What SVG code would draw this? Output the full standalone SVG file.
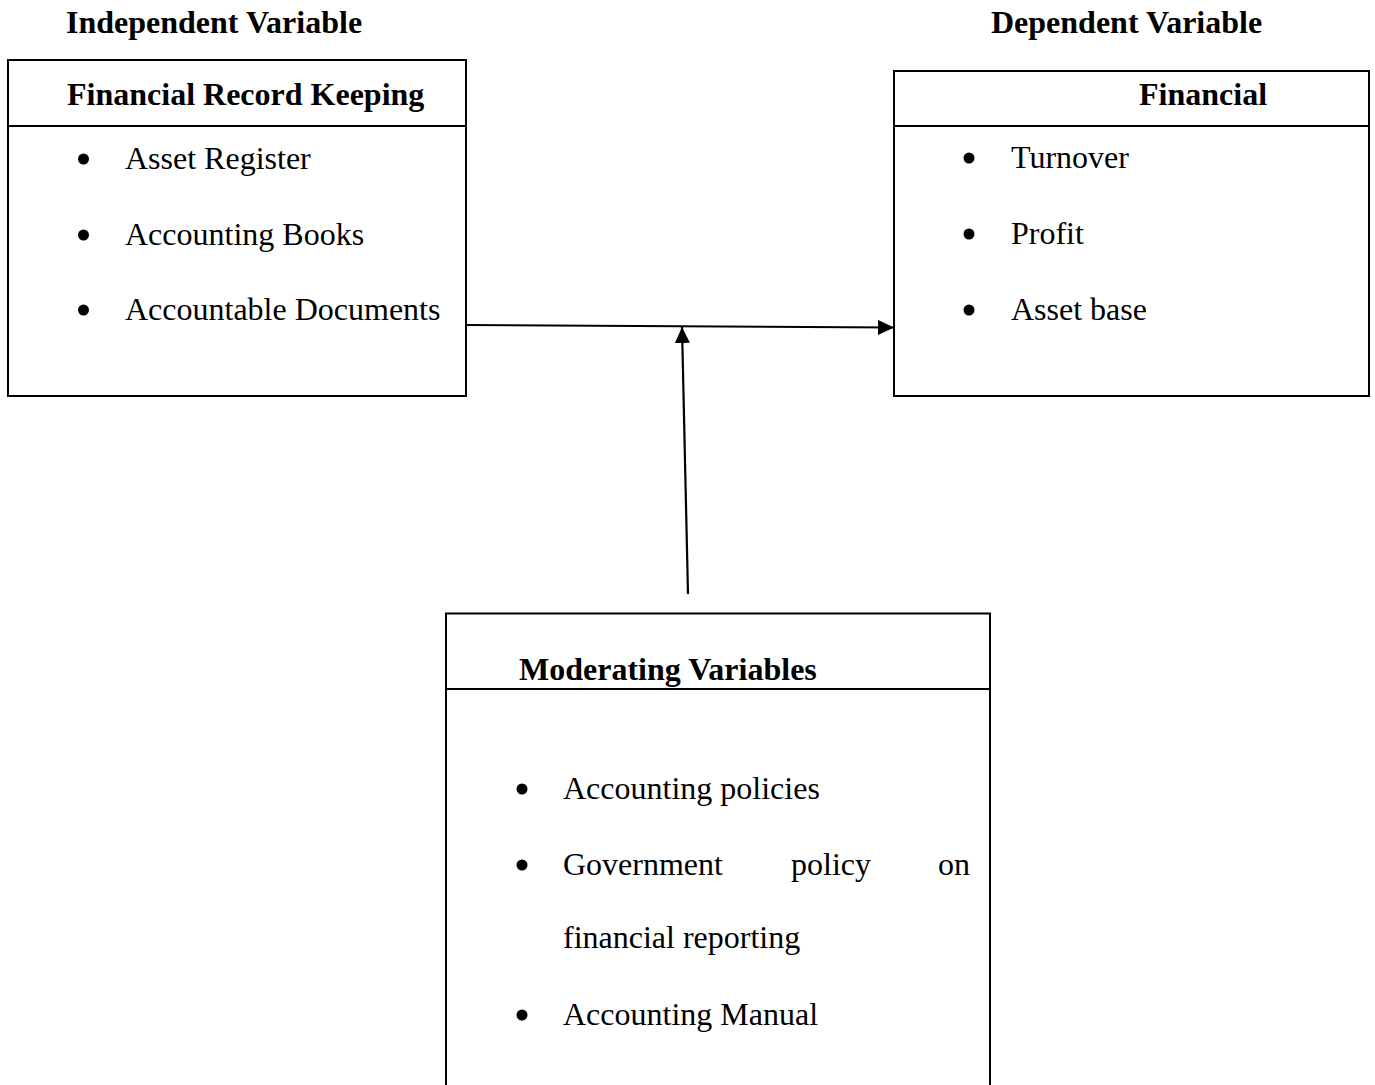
<svg xmlns="http://www.w3.org/2000/svg" width="1375" height="1085" viewBox="0 0 1375 1085">
<style>
.box{fill:none;stroke:#000;stroke-width:2}
.t{font-family:"Liberation Serif","Times New Roman",serif;font-size:32px;fill:#000}
.b{font-weight:bold}
.bul{fill:#000}
.con{stroke:#000;stroke-width:2.2;fill:none}
</style>
<defs>
<marker id="ah" markerUnits="userSpaceOnUse" markerWidth="17" markerHeight="15" refX="16" refY="7.5" orient="auto">
<path d="M0,0 L16,7.5 L0,15 z" fill="#000"/>
</marker>
</defs>
<rect width="1375" height="1085" fill="#fff"/>
<text class="t b" x="66" y="33">Independent Variable</text>
<text class="t b" x="991" y="33">Dependent Variable</text>
<g id="independent">
<rect class="box" x="8" y="60" width="458" height="336"/>
<line class="box" x1="8" y1="126" x2="466" y2="126"/>
<text class="t b" x="67" y="105">Financial Record Keeping</text>
<circle class="bul" cx="83.5" cy="159" r="5.5"/>
<text class="t" x="125" y="169">Asset Register</text>
<circle class="bul" cx="83.5" cy="235" r="5.5"/>
<text class="t" x="125" y="245">Accounting Books</text>
<circle class="bul" cx="83.5" cy="310" r="5.5"/>
<text class="t" x="125" y="320">Accountable Documents</text>
</g>
<g id="dependent">
<rect class="box" x="894" y="71" width="475" height="325"/>
<line class="box" x1="894" y1="126" x2="1369" y2="126"/>
<text class="t b" x="1139" y="105">Financial</text>
<circle class="bul" cx="969" cy="158" r="5.5"/>
<text class="t" x="1011" y="168">Turnover</text>
<circle class="bul" cx="969" cy="234" r="5.5"/>
<text class="t" x="1011" y="244">Profit</text>
<circle class="bul" cx="969" cy="310" r="5.5"/>
<text class="t" x="1011" y="320">Asset base</text>
</g>
<g id="moderating">
<path class="box" d="M446,1090 L446,613.5 L990,613.5 L990,1090"/>
<line class="box" x1="446" y1="689" x2="990" y2="689"/>
<text class="t b" x="519" y="680">Moderating Variables</text>
<circle class="bul" cx="522" cy="789" r="5.5"/>
<text class="t" x="563" y="799">Accounting policies</text>
<circle class="bul" cx="522" cy="865" r="5.5"/>
<text class="t" y="875"><tspan x="563">Government</tspan><tspan x="791">policy</tspan><tspan x="938">on</tspan></text>
<text class="t" x="563" y="948">financial reporting</text>
<circle class="bul" cx="522" cy="1015" r="5.5"/>
<text class="t" x="563" y="1025">Accounting Manual</text>
</g>
<g id="connectors">
<line class="con" x1="466" y1="325" x2="894" y2="327.5" marker-end="url(#ah)"/>
<line class="con" x1="688" y1="594" x2="682" y2="327" marker-end="url(#ah)"/>
</g>
</svg>
